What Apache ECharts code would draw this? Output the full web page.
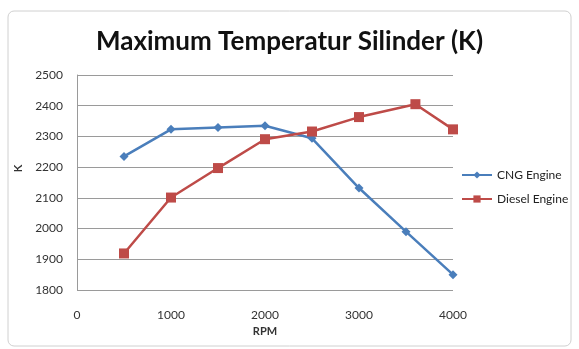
<!DOCTYPE html>
<html><head><meta charset="utf-8">
<script src="https://cdn.jsdelivr.net/npm/echarts@6/dist/echarts.min.js"></script>
<style>html,body{margin:0;padding:0;background:#fff}#c{width:579px;height:349px}</style>
</head><body><div id="c"></div>
<script>
const rpmCNG = [500, 1000, 1500, 2000, 2500, 3000, 3500, 4000];
const tempCNG = [2235, 2323, 2329, 2335, 2294, 2132, 1990, 1850];
const rpmDiesel = [500, 1000, 1500, 2000, 2500, 3000, 3600, 4000];
const tempDiesel = [1919, 2101, 2197, 2291, 2316, 2363, 2405, 2323];
const seriesNames = ['CNG Engine', 'Diesel Engine'];
const titleText = 'Maximum Temperatur Silinder (K)';

const chart = echarts.init(document.getElementById('c'));
const font = 'Lato, "Open Sans", sans-serif';
chart.setOption({
  animation: false,
  backgroundColor: '#fff',
  graphic: [{type: 'rect', shape: {x: 8, y: 11, width: 563, height: 335, r: 6}, style: {fill: 'none', stroke: '#d0d0d0', lineWidth: 1}}],
  title: {text: titleText, left: 'center', top: 24, textStyle: {fontFamily: font, fontSize: 26, fontWeight: 'bold', color: '#111'}},
  legend: {orient: 'vertical', left: 456, top: 164, itemGap: 12, itemWidth: 30, itemHeight: 9,
    textStyle: {fontFamily: font, fontSize: 12, color: '#222'}, data: seriesNames},
  grid: {left: 77, right: 126, top: 75, bottom: 59},
  xAxis: {type: 'value', min: 0, max: 4000, interval: 1000, name: 'RPM', nameLocation: 'middle', nameGap: 27,
    nameTextStyle: {fontFamily: font, fontSize: 11, fontWeight: 'bold', color: '#333'},
    axisLine: {show: false}, axisTick: {show: false}, splitLine: {show: false},
    axisLabel: {fontFamily: font, fontSize: 12, color: '#333', margin: 19, formatter: v => String(v)}},
  yAxis: {type: 'value', min: 1800, max: 2500, interval: 100, name: 'K', nameLocation: 'middle', nameGap: 52, nameRotate: 90,
    nameTextStyle: {fontFamily: font, fontSize: 11, fontWeight: 'bold', color: '#333', padding: [0, 0, 0, 28]},
    axisLine: {show: true, lineStyle: {color: '#9a9a9a'}}, axisTick: {show: false},
    splitLine: {lineStyle: {color: '#9a9a9a', width: 1}},
    axisLabel: {fontFamily: font, fontSize: 12, color: '#333', margin: 14, formatter: v => String(v)}},
  series: [
    {name: seriesNames[0], type: 'line', data: rpmCNG.map((x, i) => [x, tempCNG[i]]),
      symbol: 'diamond', symbolSize: 9, itemStyle: {color: '#4a7ebb'}, lineStyle: {color: '#4a7ebb', width: 2.5}},
    {name: seriesNames[1], type: 'line', data: rpmDiesel.map((x, i) => [x, tempDiesel[i]]),
      symbol: 'rect', symbolSize: 10, itemStyle: {color: '#be4b48'}, lineStyle: {color: '#be4b48', width: 2.5}}
  ]
});
</script></body></html>
